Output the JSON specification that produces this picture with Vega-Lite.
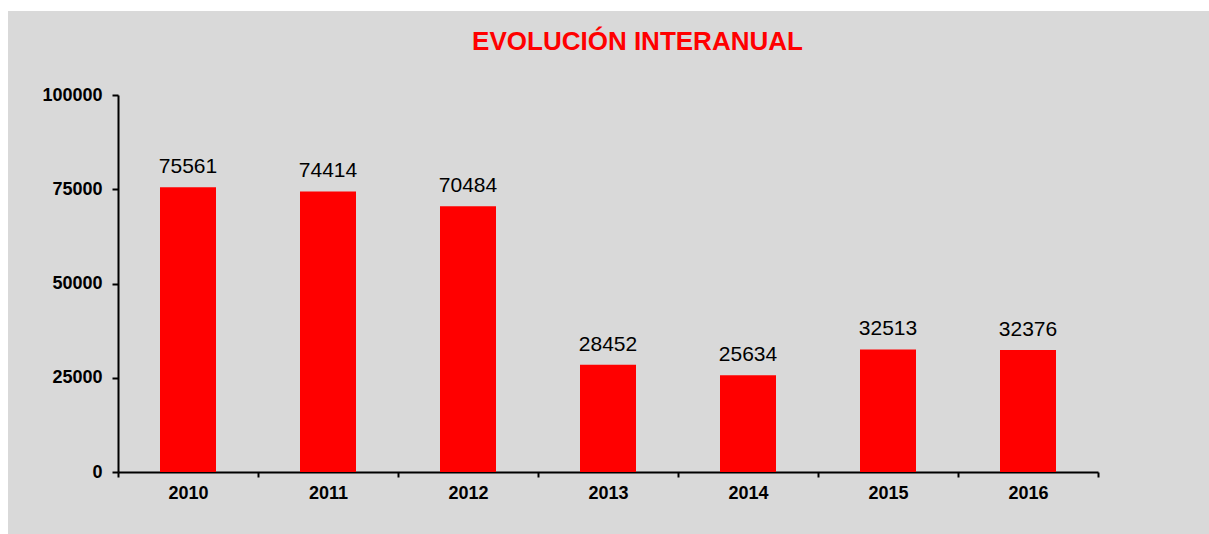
{
  "$schema": "https://vega.github.io/schema/vega-lite/v6.json",
  "autosize": {"type": "none"},
  "width": 1201,
  "height": 523,
  "padding": {"left": 8, "top": 11, "right": 0, "bottom": 0},
  "background": "white",
  "config": {
    "view": {"fill": "#d9d9d9", "stroke": null},
    "font": "Liberation Sans"
  },
  "title": {
    "text": "EVOLUCIÓN INTERANUAL",
    "font": "Liberation Sans",
    "fontSize": 26,
    "fontWeight": "bold",
    "color": "#ff0000",
    "anchor": "middle",
    "frame": "group",
    "baseline": "alphabetic",
    "offset": 0,
    "dx": 29,
    "dy": 65
  },
  "data": {
    "values": [
      {"year": "2010", "value": 75561},
      {"year": "2011", "value": 74414},
      {"year": "2012", "value": 70484},
      {"year": "2013", "value": 28452},
      {"year": "2014", "value": 25634},
      {"year": "2015", "value": 32513},
      {"year": "2016", "value": 32376}
    ]
  },
  "encoding": {
    "x": {
      "field": "year",
      "type": "nominal",
      "sort": null,
      "scale": {"range": [110, 1090], "paddingInner": 0, "paddingOuter": 0},
      "axis": {
        "title": null,
        "orient": "bottom",
        "offset": -62,
        "labelAngle": 0,
        "labelFont": "Liberation Sans",
        "labelFontSize": 18,
        "labelFontWeight": "bold",
        "labelColor": "#000000",
        "labelPadding": 7,
        "tickBand": "extent",
        "tickSize": 5,
        "tickWidth": 2,
        "tickColor": "#000000",
        "domainColor": "#000000",
        "domainWidth": 2,
        "grid": false
      }
    },
    "y": {
      "field": "value",
      "type": "quantitative",
      "scale": {"domain": [0, 100000], "range": [461, 84], "nice": false, "zero": true},
      "axis": {
        "title": null,
        "orient": "left",
        "offset": -110,
        "values": [0, 25000, 50000, 75000, 100000],
        "format": "d",
        "labelFont": "Liberation Sans",
        "labelFontSize": 18,
        "labelFontWeight": "bold",
        "labelColor": "#000000",
        "labelPadding": 10,
        "tickSize": 6,
        "tickWidth": 2,
        "tickColor": "#000000",
        "domainColor": "#000000",
        "domainWidth": 2,
        "grid": false
      }
    }
  },
  "layer": [
    {"mark": {"type": "bar", "color": "#ff0000", "width": {"band": 0.4}}},
    {
      "mark": {
        "type": "text",
        "font": "Liberation Sans",
        "fontSize": 21,
        "color": "#000000",
        "baseline": "alphabetic",
        "align": "center",
        "dy": -14
      },
      "encoding": {"text": {"field": "value", "type": "quantitative", "format": "d"}}
    }
  ]
}
